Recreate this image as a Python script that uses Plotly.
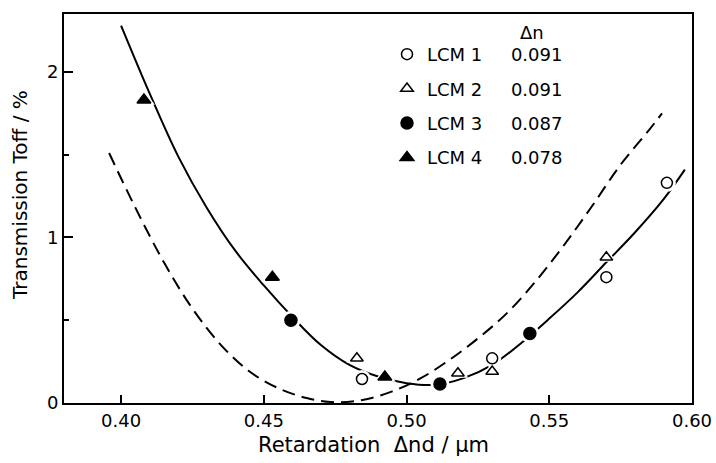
import plotly.graph_objects as go

# ---- data ----
lcm1_x = [0.4844, 0.530, 0.570, 0.5912]
lcm1_y = [0.145, 0.27, 0.76, 1.33]
lcm2_x = [0.4826, 0.518, 0.530, 0.570]
lcm2_y = [0.27, 0.18, 0.19, 0.88]
lcm3_x = [0.4595, 0.5117, 0.5432]
lcm3_y = [0.50, 0.115, 0.42]
lcm4_x = [0.408, 0.453, 0.4924]
lcm4_y = [1.83, 0.76, 0.157]

names = ["LCM 1", "LCM 2", "LCM 3", "LCM 4"]
delta_n = ["0.091", "0.091", "0.087", "0.078"]

# fitted curves
solid_x = [0.400, 0.410, 0.420, 0.430, 0.440, 0.450, 0.460, 0.470, 0.480, 0.490, 0.500,
           0.510, 0.520, 0.530, 0.540, 0.550, 0.560, 0.570, 0.580, 0.590, 0.5975]
solid_y = [2.28, 1.87, 1.49, 1.18, 0.92, 0.71, 0.52, 0.35, 0.23, 0.16, 0.12,
           0.11, 0.15, 0.23, 0.36, 0.51, 0.67, 0.85, 1.03, 1.23, 1.41]
dash_x = [0.3958, 0.405, 0.415, 0.425, 0.435, 0.445, 0.455, 0.465, 0.475, 0.485, 0.495,
          0.505, 0.515, 0.525, 0.535, 0.545, 0.555, 0.565, 0.575, 0.585, 0.5895]
dash_y = [1.51, 1.18, 0.85, 0.57, 0.35, 0.19, 0.09, 0.03, 0.005, 0.02, 0.07,
          0.15, 0.26, 0.39, 0.54, 0.73, 0.95, 1.19, 1.44, 1.65, 1.75]

FONT = "DejaVu Sans"
L, R, T, B = 64, 24, 14, 60
PW, PH = 716 - L - R, 463 - T - B

fig = go.Figure()
fig.add_trace(go.Scatter(x=solid_x, y=solid_y, mode="lines", line=dict(color="black", width=2, shape="spline"),
                         showlegend=False, hoverinfo="skip"))
fig.add_trace(go.Scatter(x=dash_x, y=dash_y, mode="lines",
                         line=dict(color="black", width=2, shape="spline", dash="13px,7px"),
                         showlegend=False, hoverinfo="skip"))

series = [
    (lcm1_x, lcm1_y, "circle", "white", 11),
    (lcm2_x, lcm2_y, "triangle-up", "white", 11),
    (lcm3_x, lcm3_y, "circle", "black", 12),
    (lcm4_x, lcm4_y, "triangle-up", "black", 12),
]
# white halos to break the curves around the markers
for xs, ys, sym, fill, sz in series:
    fig.add_trace(go.Scatter(x=xs, y=ys, mode="markers", showlegend=False, hoverinfo="skip",
                             marker=dict(symbol=sym, size=sz + 7, color="white", line=dict(width=0))))
for i, (xs, ys, sym, fill, sz) in enumerate(series):
    label = names[i] + "\u00a0" * 5 + delta_n[i]
    fig.add_trace(go.Scatter(x=xs, y=ys, mode="markers", name=label, legendgroup=str(i),
                             marker=dict(symbol=sym, size=sz, color=fill,
                                         line=dict(color="black", width=1.5))))

fig.add_annotation(text="Δn", xref="paper", yref="paper", x=(532 - L) / PW, y=(403 - 32) / PH,
                   xanchor="center", yanchor="middle",
                   showarrow=False, font=dict(family=FONT, size=18, color="black"))
fig.add_annotation(text="Transmission Toff / %", xref="paper", yref="paper",
                   x=(20 - L) / PW, y=(403 - 195) / PH, xanchor="center", yanchor="middle",
                   textangle=-90, showarrow=False, font=dict(family=FONT, size=20, color="black"))
fig.add_annotation(text="Retardation  Δnd / μm", xref="paper", yref="paper",
                   x=(373 - L) / PW, y=(403 - 445) / PH, xanchor="center", yanchor="middle",
                   showarrow=False, font=dict(family=FONT, size=21, color="black"))

fig.update_layout(
    width=716, height=463,
    margin=dict(l=L, r=R, t=T, b=B, autoexpand=False),
    paper_bgcolor="white", plot_bgcolor="white",
    font=dict(family=FONT, size=18, color="black"),
    legend=dict(x=(387 - L) / PW, y=(403 - 36) / PH, xanchor="left", yanchor="top",
                bgcolor="rgba(0,0,0,0)", tracegroupgap=8, font=dict(size=18)),
)
fig.update_xaxes(
    range=[0.38, 0.60], tickvals=[0.40, 0.45, 0.50, 0.55, 0.60], tickformat=".2f",
    ticks="inside", ticklen=8, tickwidth=1.5, tickcolor="black",
    showline=True, linecolor="black", linewidth=1.8, mirror=True,
    showgrid=False, zeroline=False, automargin=False,
)
fig.update_yaxes(
    range=[0, 2.35], tickvals=[0, 1, 2],
    ticks="inside", ticklen=9, tickwidth=1.5, tickcolor="black",
    minor=dict(dtick=0.5, ticks="inside", ticklen=5, tickwidth=1.5, tickcolor="black"),
    showline=True, linecolor="black", linewidth=1.8, mirror=True,
    showgrid=False, zeroline=False, automargin=False,
)

fig.write_html("out.html", config={"displayModeBar": False},
               post_script="document.body.style.margin='0px';")
